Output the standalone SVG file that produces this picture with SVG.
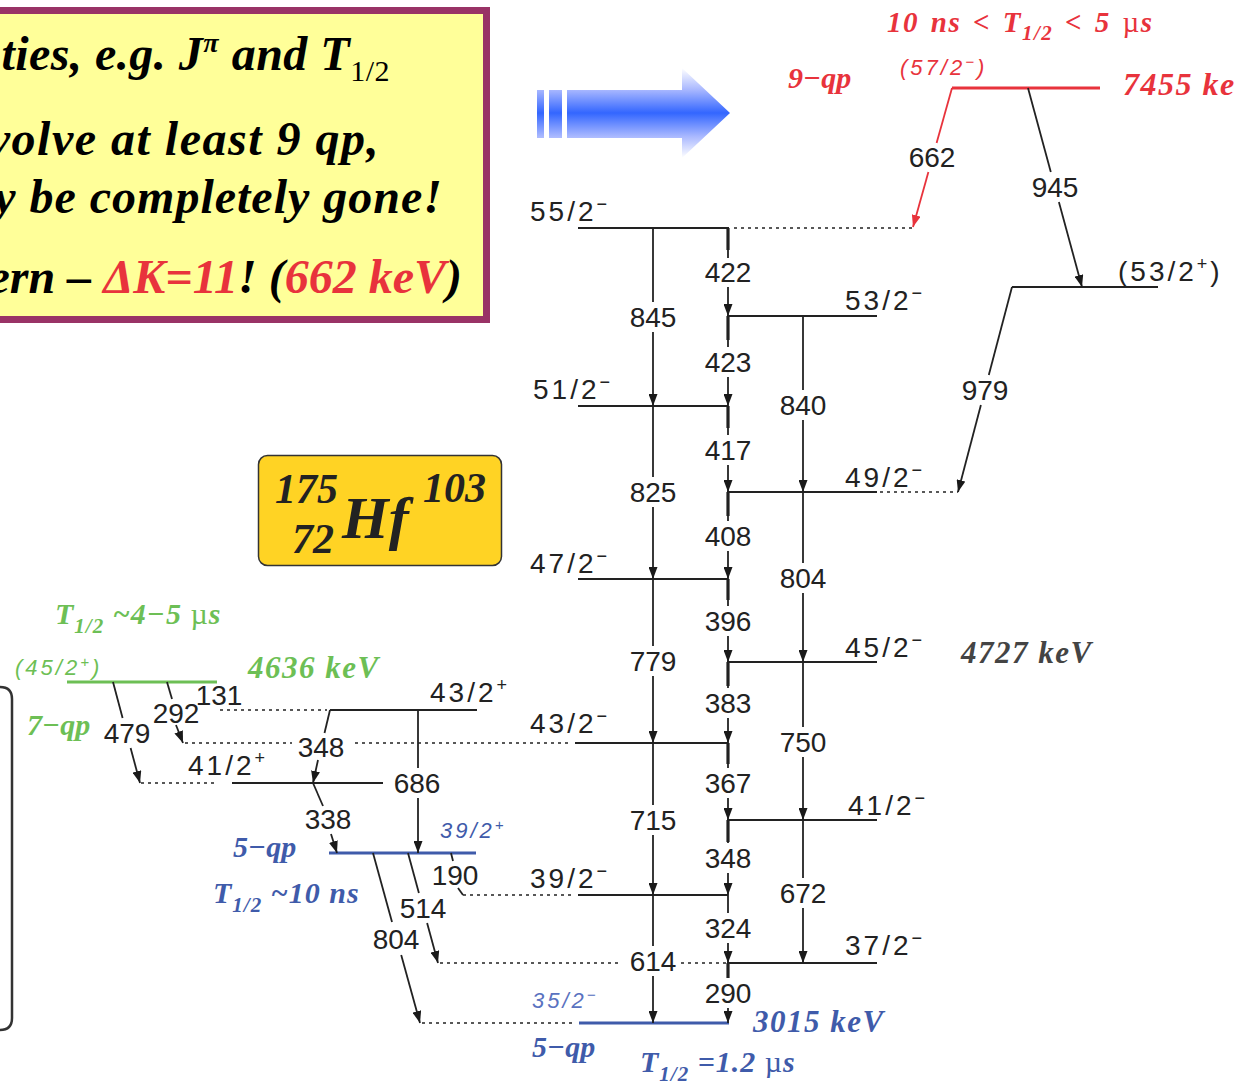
<svg xmlns="http://www.w3.org/2000/svg" width="1249" height="1088" viewBox="0 0 1249 1088">
<defs>
<style>
.lv{stroke:#222;stroke-width:1.8;fill:none}
.dt{stroke:#222;stroke-width:1.6;stroke-dasharray:3 4;fill:none}
.tr{stroke:#222;stroke-width:1.8;fill:none}
.ta{stroke:#222;stroke-width:1.8;fill:none;marker-end:url(#ah)}
.tk{stroke:#222;stroke-width:3.2}
.n{font-family:"Liberation Sans",Arial,sans-serif;font-size:28px;fill:#222;text-anchor:middle}
.s{font-family:"Liberation Sans",Arial,sans-serif;font-size:28px;fill:#222;letter-spacing:3px}
.si{font-family:"Liberation Sans",Arial,sans-serif;font-size:22px;font-style:italic;letter-spacing:3px}
.bi{font-family:"Liberation Serif","Times New Roman",serif;font-weight:bold;font-style:italic}
.box{font-family:"Liberation Serif","Times New Roman",serif;font-weight:bold;font-style:italic;font-size:48px;fill:#000;text-anchor:end}
.red{fill:#E8333C}
.grn{fill:#6DBF55}
.blu{fill:#3F5BAA}
</style>
<marker id="ah" viewBox="0 0 12 9" refX="12" refY="4.5" markerWidth="12" markerHeight="9" markerUnits="userSpaceOnUse" orient="auto"><path d="M0,0 L12,4.5 L0,9 z" fill="#1a1a1a"/></marker>
<marker id="ahr" viewBox="0 0 12 9" refX="12" refY="4.5" markerWidth="12" markerHeight="9" markerUnits="userSpaceOnUse" orient="auto"><path d="M0,0 L12,4.5 L0,9 z" fill="#E8333C"/></marker>
<linearGradient id="bg" gradientUnits="userSpaceOnUse" x1="0" y1="68" x2="0" y2="158">
<stop offset="0" stop-color="#ffffff"/>
<stop offset="0.24" stop-color="#a9b8ff"/>
<stop offset="0.5" stop-color="#3366ff"/>
<stop offset="0.76" stop-color="#a9b8ff"/>
<stop offset="1" stop-color="#ffffff"/>
</linearGradient>
</defs>
<rect width="1249" height="1088" fill="#fff"/>

<g id="textbox">
<rect x="-10" y="10.5" width="496.5" height="309" fill="#FFFF99" stroke="#993366" stroke-width="7"/>
<text class="box" x="390" y="70" letter-spacing="0.5">ties, e.g. J<tspan dy="-18" font-size="28">π</tspan><tspan dy="18"> and T</tspan><tspan dy="11" font-size="30" font-style="normal" font-weight="normal">1/2</tspan></text>
<text class="box" x="380" y="155" letter-spacing="1.5">volve at least 9 qp,</text>
<text class="box" x="443" y="213" letter-spacing="1">y be completely gone!</text>
<text class="box" x="462" y="293">ern – <tspan class="red">ΔK=11</tspan>! (<tspan class="red">662 keV</tspan>)</text>
</g>

<g id="blue-arrow">
<rect x="537" y="90" width="7" height="48" fill="url(#bg)"/>
<rect x="549" y="90" width="13" height="48" fill="url(#bg)"/>
<path d="M567,90 L682,90 L682,68 L730,113 L682,158 L682,138 L567,138 Z" fill="url(#bg)"/>
</g>

<g id="nucleus">
<rect x="258.5" y="455.5" width="243" height="110" rx="9" fill="#FFD324" stroke="#333" stroke-width="1.5"/>
<text class="bi" x="275" y="503" font-size="42" fill="#222">175</text>
<text class="bi" x="292" y="553" font-size="42" fill="#222">72</text>
<text class="bi" x="342" y="538" font-size="60" fill="#222">Hf</text>
<text class="bi" x="423" y="502" font-size="42" fill="#222">103</text>
</g>

<g id="bracket">
<path d="M0,687 Q12,687 12,699 L12,1018 Q12,1030 0,1030" fill="none" stroke="#333" stroke-width="2.5"/>
</g>

<g id="level-57-2">
<line x1="952" y1="88" x2="1100" y2="88" stroke="#E8333C" stroke-width="3"/>
<text class="bi red" x="887" y="32" font-size="29" letter-spacing="1.5" word-spacing="3">10 ns &lt; T<tspan dy="8" font-size="21">1/2</tspan><tspan dy="-8"> &lt; 5 </tspan><tspan font-style="normal" font-weight="normal">µ</tspan>s</text>
<text class="bi red" x="788" y="88" font-size="30">9−qp</text>
<text class="si red" x="900" y="75">(57/2<tspan dy="-8" font-size="15">−</tspan><tspan dy="8">)</tspan></text>
<text class="bi red" x="1123" y="95" font-size="32" letter-spacing="1.5">7455 ke</text>
</g>

<g id="level-55-2">
<line class="lv" x1="578" y1="228" x2="729" y2="228"/>
<line class="dt" x1="734" y1="228" x2="915" y2="228"/>
<text class="s" x="530" y="221">55/2<tspan dy="-11" font-size="18">−</tspan></text>
</g>

<g id="level-53-2p">
<line class="lv" x1="1012" y1="287" x2="1158" y2="287"/>
<text class="s" x="1118" y="281" letter-spacing="1.5">(53/2<tspan dy="-11" font-size="18">+</tspan><tspan dy="11">)</tspan></text>
</g>

<g id="level-53-2">
<line class="lv" x1="727" y1="316" x2="877" y2="316"/>
<text class="s" x="845" y="310">53/2<tspan dy="-11" font-size="18">−</tspan></text>
</g>

<g id="level-51-2">
<line class="lv" x1="578" y1="406" x2="728" y2="406"/>
<text class="s" x="533" y="399">51/2<tspan dy="-11" font-size="18">−</tspan></text>
</g>

<g id="level-49-2">
<line class="lv" x1="727" y1="492" x2="877" y2="492"/>
<line class="dt" x1="880" y1="492" x2="958" y2="492"/>
<text class="s" x="845" y="487">49/2<tspan dy="-11" font-size="18">−</tspan></text>
</g>

<g id="level-47-2">
<line class="lv" x1="578" y1="579" x2="728" y2="579"/>
<text class="s" x="530" y="573">47/2<tspan dy="-11" font-size="18">−</tspan></text>
</g>

<g id="level-45-2">
<line class="lv" x1="727" y1="662" x2="877" y2="662"/>
<text class="s" x="845" y="657">45/2<tspan dy="-11" font-size="18">−</tspan></text>
<text class="bi" x="961" y="663" font-size="31" fill="#444" letter-spacing="1.5">4727 keV</text>
</g>

<g id="level-43-2m">
<line class="lv" x1="575" y1="743" x2="728" y2="743"/>
<line class="dt" x1="185" y1="743" x2="292" y2="743"/>
<line class="dt" x1="355" y1="743" x2="572" y2="743"/>
<text class="s" x="530" y="733">43/2<tspan dy="-11" font-size="18">−</tspan></text>
</g>

<g id="level-41-2m">
<line class="lv" x1="727" y1="820" x2="877" y2="820"/>
<text class="s" x="848" y="815">41/2<tspan dy="-11" font-size="18">−</tspan></text>
</g>

<g id="level-39-2m">
<line class="lv" x1="578" y1="895" x2="728" y2="895"/>
<line class="dt" x1="463" y1="895" x2="575" y2="895"/>
<text class="s" x="530" y="888">39/2<tspan dy="-11" font-size="18">−</tspan></text>
</g>

<g id="level-37-2">
<line class="lv" x1="727" y1="963" x2="877" y2="963"/>
<line class="dt" x1="440" y1="963" x2="622" y2="963"/>
<line class="dt" x1="681" y1="963" x2="726" y2="963"/>
<text class="s" x="845" y="955">37/2<tspan dy="-11" font-size="18">−</tspan></text>
</g>

<g id="level-35-2">
<line x1="579" y1="1023" x2="729" y2="1023" stroke="#3F5BAA" stroke-width="3"/>
<line class="dt" x1="422" y1="1023" x2="576" y2="1023"/>
<text class="si" x="532" y="1008" fill="#5A72C0">35/2<tspan dy="-8" font-size="15">−</tspan></text>
<text class="bi blu" x="753" y="1032" font-size="31" letter-spacing="1.5">3015 keV</text>
<text class="bi blu" x="532" y="1057" font-size="30">5−qp</text>
<text class="bi blu" x="640" y="1072" font-size="30" letter-spacing="1">T<tspan dy="9" font-size="21">1/2</tspan><tspan dy="-9"> =1.2 </tspan><tspan font-style="normal" font-weight="normal">µ</tspan>s</text>
</g>

<g id="level-45-2p">
<line x1="67" y1="682" x2="217" y2="682" stroke="#6DBF55" stroke-width="3"/>
<text class="bi grn" x="55" y="624" font-size="30" letter-spacing="1">T<tspan dy="9" font-size="21">1/2</tspan><tspan dy="-9"> ~4−5 </tspan><tspan font-style="normal" font-weight="normal">µ</tspan>s</text>
<text class="si grn" x="15" y="675">(45/2<tspan dy="-8" font-size="15">+</tspan><tspan dy="8">)</tspan></text>
<text class="bi grn" x="248" y="678" font-size="31" letter-spacing="1.5">4636 keV</text>
<text class="bi grn" x="27" y="735" font-size="30">7−qp</text>
</g>

<g id="level-43-2p">
<line class="lv" x1="330" y1="710" x2="477" y2="710"/>
<line class="dt" x1="220" y1="710" x2="327" y2="710"/>
<text class="s" x="430" y="702">43/2<tspan dy="-11" font-size="18">+</tspan></text>
</g>

<g id="level-41-2p">
<line class="lv" x1="232" y1="783" x2="383" y2="783"/>
<line class="dt" x1="141" y1="783" x2="215" y2="783"/>
<text class="s" x="188" y="775">41/2<tspan dy="-11" font-size="18">+</tspan></text>
</g>

<g id="level-39-2p">
<line x1="329" y1="853" x2="476" y2="853" stroke="#3F5BAA" stroke-width="3"/>
<text class="si blu" x="440" y="838">39/2<tspan dy="-8" font-size="15">+</tspan></text>
<text class="bi blu" x="233" y="857" font-size="30">5−qp</text>
<text class="bi blu" x="213" y="903" font-size="30" letter-spacing="1">T<tspan dy="9" font-size="21">1/2</tspan><tspan dy="-9"> ~10 ns</tspan></text>
</g>

<g id="connectors">
<line x1="952" y1="88" x2="936.6" y2="143" stroke="#E8333C" stroke-width="1.8"/>
<line x1="928.4" y1="172" x2="913" y2="227" stroke="#E8333C" stroke-width="1.8" marker-end="url(#ahr)"/>
<text class="n" x="932" y="167">662</text>
<line class="tr" x1="1028" y1="88" x2="1050.8" y2="172"/>
<line class="ta" x1="1058.9" y1="202" x2="1082" y2="287"/>
<text class="n" x="1055" y="197">945</text>
<line class="tr" x1="1012" y1="287" x2="988.8" y2="375"/>
<line class="ta" x1="980.9" y1="405" x2="958" y2="492"/>
<text class="n" x="985" y="400">979</text>

<line class="tr" x1="653" y1="228" x2="653" y2="302"/>
<line class="ta" x1="653" y1="332" x2="653" y2="406"/>
<text class="n" x="653" y="327">845</text>
<line class="tr" x1="653" y1="406" x2="653" y2="477"/>
<line class="ta" x1="653" y1="507" x2="653" y2="579"/>
<text class="n" x="653" y="502">825</text>
<line class="tr" x1="653" y1="579" x2="653" y2="646"/>
<line class="ta" x1="653" y1="676" x2="653" y2="743"/>
<text class="n" x="653" y="671">779</text>
<line class="tr" x1="653" y1="743" x2="653" y2="805"/>
<line class="ta" x1="653" y1="835" x2="653" y2="895"/>
<text class="n" x="653" y="830">715</text>
<line class="tr" x1="653" y1="895" x2="653" y2="946"/>
<line class="ta" x1="653" y1="976" x2="653" y2="1023"/>
<text class="n" x="653" y="971">614</text>

<line class="tk" x1="728" y1="228" x2="728" y2="250"/>
<line class="tr" x1="728" y1="228" x2="728" y2="258"/>
<line class="ta" x1="728" y1="287" x2="728" y2="316"/>
<text class="n" x="728" y="282">422</text>
<line class="tk" x1="728" y1="316" x2="728" y2="340"/>
<line class="tr" x1="728" y1="316" x2="728" y2="347"/>
<line class="ta" x1="728" y1="377" x2="728" y2="406"/>
<text class="n" x="728" y="372">423</text>
<line class="tk" x1="728" y1="406" x2="728" y2="428"/>
<line class="tr" x1="728" y1="406" x2="728" y2="435"/>
<line class="ta" x1="728" y1="465" x2="728" y2="492"/>
<text class="n" x="728" y="460">417</text>
<line class="tk" x1="728" y1="492" x2="728" y2="516"/>
<line class="tr" x1="728" y1="492" x2="728" y2="521"/>
<line class="ta" x1="728" y1="551" x2="728" y2="579"/>
<text class="n" x="728" y="546">408</text>
<line class="tk" x1="728" y1="579" x2="728" y2="600"/>
<line class="tr" x1="728" y1="579" x2="728" y2="606"/>
<line class="ta" x1="728" y1="636" x2="728" y2="662"/>
<text class="n" x="728" y="631">396</text>
<line class="tk" x1="728" y1="662" x2="728" y2="686"/>
<line class="tr" x1="728" y1="662" x2="728" y2="688"/>
<line class="ta" x1="728" y1="718" x2="728" y2="743"/>
<text class="n" x="728" y="713">383</text>
<line class="tk" x1="728" y1="743" x2="728" y2="764"/>
<line class="tr" x1="728" y1="743" x2="728" y2="768"/>
<line class="ta" x1="728" y1="798" x2="728" y2="820"/>
<text class="n" x="728" y="793">367</text>
<line class="tk" x1="728" y1="820" x2="728" y2="842"/>
<line class="tr" x1="728" y1="820" x2="728" y2="843"/>
<line class="ta" x1="728" y1="873" x2="728" y2="895"/>
<text class="n" x="728" y="868">348</text>
<line class="tr" x1="728" y1="895" x2="728" y2="913"/>
<line class="ta" x1="728" y1="943" x2="728" y2="963"/>
<text class="n" x="728" y="938">324</text>
<line class="tk" x1="728" y1="963" x2="728" y2="978"/>
<line class="ta" x1="728" y1="1008" x2="728" y2="1023"/>
<text class="n" x="728" y="1003">290</text>

<line class="tr" x1="803" y1="316" x2="803" y2="390"/>
<line class="ta" x1="803" y1="420" x2="803" y2="492"/>
<text class="n" x="803" y="415">840</text>
<line class="tr" x1="803" y1="492" x2="803" y2="563"/>
<line class="ta" x1="803" y1="593" x2="803" y2="662"/>
<text class="n" x="803" y="588">804</text>
<line class="tr" x1="803" y1="662" x2="803" y2="727"/>
<line class="ta" x1="803" y1="757" x2="803" y2="820"/>
<text class="n" x="803" y="752">750</text>
<line class="tr" x1="803" y1="820" x2="803" y2="878"/>
<line class="ta" x1="803" y1="908" x2="803" y2="963"/>
<text class="n" x="803" y="903">672</text>

<line class="tr" x1="113" y1="682" x2="122.6" y2="718"/>
<line class="ta" x1="130.6" y1="748" x2="140" y2="783"/>
<text class="n" x="127" y="743">479</text>
<line class="tr" x1="167" y1="682" x2="172" y2="699"/>
<line class="ta" x1="176" y1="725" x2="183" y2="743"/>
<text class="n" x="176" y="723">292</text>
<text class="n" x="219" y="705">131</text>
<line class="tr" x1="330" y1="710" x2="324.5" y2="733"/>
<line class="ta" x1="318" y1="760" x2="313" y2="783"/>
<text class="n" x="321" y="757">348</text>
<line class="tr" x1="313" y1="783" x2="323" y2="806"/>
<line class="ta" x1="331" y1="834" x2="337" y2="853"/>
<text class="n" x="328" y="829">338</text>
<line class="tr" x1="418" y1="710" x2="418" y2="768"/>
<line class="ta" x1="418" y1="798" x2="418" y2="853"/>
<text class="n" x="417" y="793">686</text>
<line class="tr" x1="373" y1="853" x2="392" y2="922"/>
<line class="ta" x1="401.2" y1="955" x2="420" y2="1023"/>
<text class="n" x="396" y="949">804</text>
<line class="tr" x1="408" y1="853" x2="418.9" y2="893"/>
<line class="ta" x1="427.1" y1="923" x2="438" y2="963"/>
<text class="n" x="423" y="918">514</text>
<line class="tr" x1="451" y1="853" x2="453" y2="861"/>
<line class="tr" x1="458" y1="888" x2="463" y2="895"/>
<text class="n" x="455" y="885">190</text>
</g>
</svg>
